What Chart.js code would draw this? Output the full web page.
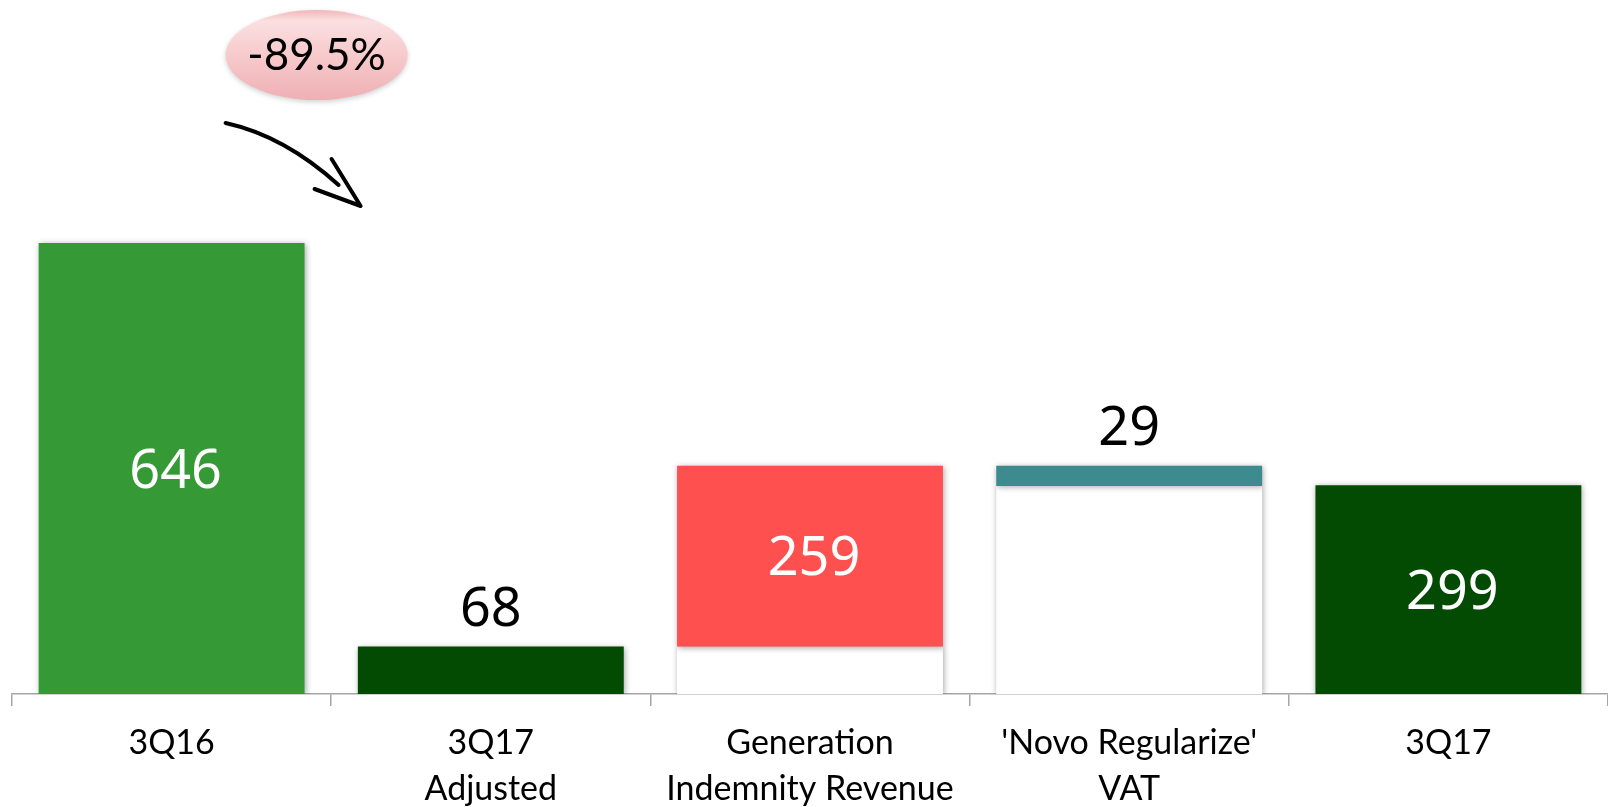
<!DOCTYPE html>
<html>
<head>
<meta charset="utf-8">
<script src="https://cdn.jsdelivr.net/npm/chart.js@4.4.1/dist/chart.umd.min.js"></script>
<style>
  html, body { margin: 0; padding: 0; background: #fff; }
  #wrap { width: 1608px; height: 807px; position: relative; }
</style>
</head>
<body>
<div id="wrap"><canvas id="bridgeChart"></canvas></div>
<script>
"use strict";

// Waterfall data (R$ million)
const categories = ["3Q16", ["3Q17", "Adjusted"], ["Generation", "Indemnity Revenue"], ["'Novo Regularize'", "VAT"], "3Q17"];
const baseValues = [0, 0, 68, 298, 0];
const barValues = [646, 68, 259, 29, 299];
const barColors = ["#359a35", "#034a03", "#ff5050", "#3d8b8f", "#034a03"];
const changeLabel = "-89.5%";

const floatingBars = barValues.map((v, i) => [baseValues[i], baseValues[i] + v]);
const baseBars = baseValues.map((b) => [0, b]);

// soft drop shadow under every bar
const shadowPlugin = {
  id: "barShadow",
  beforeDatasetDraw(chart) {
    const ctx = chart.ctx;
    ctx.save();
    ctx.shadowColor = "rgba(0,0,0,0.35)";
    ctx.shadowBlur = 6;
    ctx.shadowOffsetX = 1;
    ctx.shadowOffsetY = 1;
  },
  afterDatasetDraw(chart) {
    chart.ctx.restore();
  },
};

// value labels: white inside the big bars, black above the small ones
const valueLabels = {
  id: "valueLabels",
  afterDatasetsDraw(chart) {
    const ctx = chart.ctx;
    const meta = chart.getDatasetMeta(1);
    ctx.save();
    ctx.font = "54px 'Noto Sans'";
    ctx.textAlign = "center";
    meta.data.forEach((bar, i) => {
      const v = barValues[i];
      if (v > 100) {
        ctx.fillStyle = "#ffffff";
        ctx.textBaseline = "middle";
        ctx.fillText(String(v), bar.x + 4, (bar.y + bar.base) / 2 + 4);
      } else {
        ctx.fillStyle = "#000000";
        ctx.textBaseline = "alphabetic";
        ctx.fillText(String(v), bar.x, Math.min(bar.y, bar.base) - 21);
      }
    });
    ctx.restore();
  },
};

// pink bubble with the change and the hand-drawn arrow
const changeBubble = {
  id: "changeBubble",
  afterDraw(chart) {
    const ctx = chart.ctx;
    const x0 = chart.scales.x.getPixelForValue(0);
    const top = chart.chartArea.top;
    const cx = x0 + 145, cy = top + 55;
    const rx = 91, ry = 45;

    ctx.save();
    ctx.shadowColor = "rgba(0,0,0,0.18)";
    ctx.shadowBlur = 5;
    ctx.shadowOffsetY = 2;
    const g = ctx.createLinearGradient(0, cy - ry, 0, cy + ry);
    g.addColorStop(0, "#f2b6b9");
    g.addColorStop(0.12, "#fbe0e1");
    g.addColorStop(0.5, "#f7cacc");
    g.addColorStop(1, "#efb0b4");
    ctx.fillStyle = g;
    ctx.beginPath();
    ctx.ellipse(cx, cy, rx, ry, 0, 0, Math.PI * 2);
    ctx.fill();
    ctx.restore();

    ctx.save();
    ctx.fillStyle = "#000";
    ctx.font = "44px Lato";
    ctx.textAlign = "center";
    ctx.textBaseline = "middle";
    ctx.fillText(changeLabel, cx, cy + 1);

    // arrow
    ctx.strokeStyle = "#000";
    ctx.lineWidth = 4;
    ctx.lineCap = "round";
    ctx.lineJoin = "round";
    ctx.beginPath();
    ctx.moveTo(x0 + 54, top + 123);
    ctx.quadraticCurveTo(x0 + 113, top + 136, x0 + 167, top + 185);
    ctx.stroke();
    ctx.beginPath();
    ctx.moveTo(x0 + 160, top + 159);
    ctx.lineTo(x0 + 189, top + 206);
    ctx.lineTo(x0 + 143, top + 189);
    ctx.stroke();
    ctx.restore();
  },
};

const ctx = document.getElementById("bridgeChart").getContext("2d");

new Chart(ctx, {
  type: "bar",
  data: {
    labels: categories,
    datasets: [
      {
        label: "base",
        data: baseBars,
        backgroundColor: "#ffffff",
        borderWidth: 0,
        grouped: false,
        order: 2,
        categoryPercentage: 1,
        barPercentage: 0.833,
      },
      {
        label: "value",
        data: floatingBars,
        backgroundColor: barColors,
        borderWidth: 0,
        borderSkipped: false,
        grouped: false,
        order: 1,
        categoryPercentage: 1,
        barPercentage: 0.833,
      },
    ],
  },
  options: {
    responsive: true,
    maintainAspectRatio: false,
    animation: false,
    layout: { padding: { left: 12, right: 0, top: 0, bottom: 0 } },
    plugins: {
      legend: { display: false },
      tooltip: { enabled: false },
    },
    scales: {
      y: {
        display: false,
        min: 0,
        max: 994,
      },
      x: {
        afterFit(scale) {
          scale.height = 113;
        },
        border: { display: true, color: "#a6a6a6", width: 1.5 },
        grid: {
          display: true,
          drawOnChartArea: false,
          drawTicks: true,
          tickLength: 12,
          color: "#a6a6a6",
          lineWidth: 1.5,
          offset: true,
        },
        ticks: {
          color: "#000",
          font: { family: "Lato", size: 34, lineHeight: 1.36 },
          padding: 14,
          maxRotation: 0,
          autoSkip: false,
        },
      },
    },
  },
  plugins: [shadowPlugin, valueLabels, changeBubble],
});
</script>
</body>
</html>
